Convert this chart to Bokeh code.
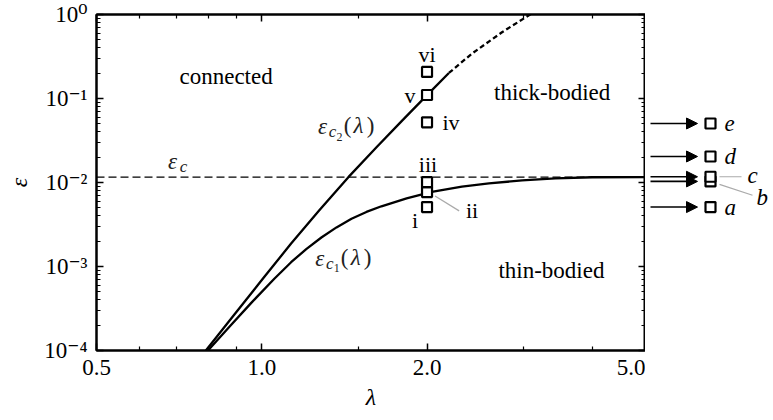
from bokeh.plotting import figure
from bokeh.models import Range1d, FixedTicker, LogAxis, Arrow, NormalHead, ColumnDataSource, Span
from bokeh.layouts import row
from bokeh.embed import file_html
from bokeh.resources import INLINE
from bokeh.core.properties import value

# ---------------- data ----------------
EPS_C = 0.0116

lam_c1 = [0.798, 0.879, 0.956, 1.054, 1.131, 1.205, 1.284, 1.368, 1.457, 1.551,
          1.652, 1.836, 2.040, 2.315, 2.593, 2.980, 3.424, 4.000, 5.0]
eps_c1 = [1.0e-4, 2.015e-4, 3.664e-4, 7.149e-4, 1.125e-3, 1.611e-3, 2.214e-3, 2.921e-3,
          3.700e-3, 4.463e-3, 5.209e-3, 6.474e-3, 7.725e-3, 8.946e-3, 9.758e-3,
          1.059e-2, 1.121e-2, 1.155e-2, 1.161e-2]

lam_c2 = [0.791, 0.890, 1.006, 1.131, 1.273, 1.438, 1.618, 1.798, 1.998, 2.192]
eps_c2 = [1.0e-4, 2.645e-4, 7.247e-4, 1.876e-3, 4.672e-3, 1.158e-2, 2.630e-2, 5.374e-2,
          0.1089, 0.2013]

lam_c2_ext = [2.192, 2.414, 2.739, 3.082, 3.310]
eps_c2_ext = [0.2013, 0.342, 0.615, 1.0, 1.319]

pt_lambda = 2.0
pt_names = ["i", "ii", "iii", "iv", "v", "vi"]
pt_eps = [0.0051, 0.0077, 0.0101, 0.052, 0.11, 0.207]

side_names = ["a", "b", "c", "d", "e"]
side_eps = [0.0051, 0.0103, 0.0117, 0.0204, 0.0504]

x_ticks = [0.5, 1.0, 2.0, 5.0]
x_tick_labels = ["0.5", "1.0", "2.0", "5.0"]
x_minor = [0.6, 0.7, 0.8, 0.9, 1.5, 3.0, 4.0]
y_ticks = [1e-4, 1e-3, 1e-2, 1e-1, 1.0]
y_tick_labels = ["10\u207b\u2074", "10\u207b\u00b3", "10\u207b\u00b2", "10\u207b\u00b9", "10\u2070"]

regions = ["connected", "thick-bodied", "thin-bodied"]
region_lam = [0.861, 3.38, 3.37]
region_eps = [0.1805, 0.117, 9.0e-4]

# ---------------- layout constants ----------------
FONT = "Liberation Serif, DejaVu Serif, serif"
H = 412
W1 = 645
W2 = 128
PXD_X = 547.0   # pixels per decade (x)
PXD_Y = 84.75   # pixels per decade (y)
y_minor = [m * 10.0 ** e for e in range(-4, 0) for m in range(2, 10)]


def shift(lam, eps, dx, dy):
    """move a data point by screen pixels (dy positive = down)"""
    return lam * 10 ** (dx / PXD_X), eps * 10 ** (-dy / PXD_Y)


p = figure(width=W1, height=H, x_axis_type="log", y_axis_type="log",
           x_range=Range1d(0.5, 5.0), y_range=Range1d(1e-4, 1.0),
           output_backend="svg", toolbar_location=None,
           min_border_left=96, min_border_right=0, min_border_top=14, min_border_bottom=59,
           background_fill_color="white", border_fill_color="white")
p.grid.visible = False
p.outline_line_color = "black"
p.outline_line_width = 2


def style_axis(ax, labels):
    ax.axis_line_width = 2
    ax.axis_line_color = "black"
    ax.major_tick_in = 7
    ax.major_tick_out = 0
    ax.minor_tick_in = 4
    ax.minor_tick_out = 0
    ax.major_tick_line_width = 1.5
    ax.minor_tick_line_width = 1.2
    ax.major_tick_line_color = "black"
    ax.minor_tick_line_color = "black"
    if labels:
        ax.major_label_text_font = FONT
        ax.major_label_text_font_size = "23px"
        ax.major_label_text_color = "black"
        ax.major_label_standoff = 9
    else:
        ax.major_label_text_font_size = "0px"
        ax.major_label_standoff = 0


xt = FixedTicker(ticks=x_ticks, minor_ticks=x_minor)
yt = FixedTicker(ticks=y_ticks, minor_ticks=y_minor)

p.xaxis.ticker = xt
p.yaxis.ticker = yt
style_axis(p.xaxis[0], True)
style_axis(p.yaxis[0], True)
p.xaxis.major_label_overrides = {t: s for t, s in zip(x_ticks, x_tick_labels)}
p.yaxis.major_label_overrides = {t: s for t, s in zip(y_ticks, y_tick_labels)}
p.xaxis.axis_label = "\u03bb"
p.yaxis.axis_label = "\u03b5"
for ax in (p.xaxis[0], p.yaxis[0]):
    ax.axis_label_text_font = FONT
    ax.axis_label_text_font_style = "italic"
    ax.axis_label_text_font_size = "24px"
    ax.axis_label_text_color = "black"
p.xaxis.axis_label_standoff = 6
p.yaxis.axis_label_standoff = 9

top = LogAxis(ticker=FixedTicker(ticks=x_ticks, minor_ticks=x_minor),
              major_label_overrides={t: "" for t in x_ticks})
right = LogAxis(ticker=FixedTicker(ticks=y_ticks, minor_ticks=y_minor),
                major_label_overrides={t: "" for t in y_ticks})
style_axis(top, False)
style_axis(right, False)
p.add_layout(top, "above")
p.add_layout(right, "right")

# critical epsilon
p.add_layout(Span(location=EPS_C, dimension="width", line_color="black",
                  line_width=1.2, line_dash="8 4"))

# curves
p.line(lam_c1, eps_c1, line_color="black", line_width=2.3, line_join="round")
p.line(lam_c2, eps_c2, line_color="black", line_width=2.3, line_join="round")
p.line(lam_c2_ext, eps_c2_ext, line_color="black", line_width=2.3, line_dash="5 3")

# leader for ii
i2 = pt_names.index("ii")
a0 = shift(pt_lambda, pt_eps[i2], 8, 4)
a1 = shift(pt_lambda, pt_eps[i2], 32, 19)
p.segment(x0=[a0[0]], y0=[a0[1]], x1=[a1[0]], y1=[a1[1]], line_color="#aaaaaa", line_width=1.2)

# sample squares
p.scatter([pt_lambda] * len(pt_eps), pt_eps, marker="square", size=10,
          line_color="black", line_width=2.2, fill_color="white")

# roman labels (offset from each square)
pt_dx = [-12, 45, 1, 24, -17, 0]
pt_dy = [13, 18, -18, 0, 0, -17]
src_pt = ColumnDataSource(dict(x=[pt_lambda] * len(pt_eps), y=pt_eps, t=pt_names,
                               dx=pt_dx, dy=pt_dy))
p.text(x="x", y="y", text="t", x_offset="dx", y_offset="dy", source=src_pt,
       text_font=value(FONT), text_font_size="22px", text_align="center",
       text_baseline="middle", text_color="black")

# region labels
p.text(x=region_lam, y=region_eps, text=regions, text_font=value(FONT),
       text_font_size="23px", text_align="center", text_baseline="middle", text_color="black")


def math_label(fig, x, y, pieces):
    for txt, dx, dy, size, style in pieces:
        fig.text(x=[x], y=[y], text=[txt], x_offset=dx, y_offset=dy,
                 text_font=value(FONT), text_font_size=size, text_font_style=style,
                 text_align="center", text_baseline="middle", text_color="#222222")


# epsilon_c label
math_label(p, 0.688, EPS_C, [("\u03b5", 0, -16, "23px", "italic"),
                             ("c", 11, -11, "17px", "italic")])
# epsilon_c2(lambda)
math_label(p, 1.29, 0.0464, [("\u03b5", 0, 0, "23px", "italic"),
                             ("c", 10, 5, "17px", "italic"),
                             ("2", 17, 10, "12px", "normal"),
                             ("(", 25, -1, "23px", "normal"),
                             ("\u03bb", 36, -1, "23px", "italic"),
                             (")", 48, -1, "23px", "normal")])
# epsilon_c1(lambda)
math_label(p, 1.275, 1.25e-3, [("\u03b5", 0, 0, "23px", "italic"),
                               ("c", 10, 5, "17px", "italic"),
                               ("1", 17, 10, "12px", "normal"),
                               ("(", 25, -1, "23px", "normal"),
                               ("\u03bb", 36, -1, "23px", "italic"),
                               (")", 48, -1, "23px", "normal")])

# ---------------- right-hand strip ----------------
p2 = figure(width=W2, height=H, x_range=Range1d(0, W2), y_range=p.y_range, y_axis_type="log",
            output_backend="svg", toolbar_location=None,
            x_axis_location=None, y_axis_location=None,
            min_border_left=0, min_border_right=0, min_border_top=14, min_border_bottom=59,
            outline_line_color=None, background_fill_color="white", border_fill_color="white")
for g in p2.grid:
    g.visible = False

ARROW_X0, ARROW_X1, SQ_X, LBL_X = 5, 52, 65, 79
n = len(side_eps)
src_side = ColumnDataSource(dict(x0=[ARROW_X0] * n, x1=[ARROW_X1] * n, y=side_eps,
                                 sx=[SQ_X] * n, t=side_names))
p2.add_layout(Arrow(end=NormalHead(size=11, fill_color="black", line_color="black", line_width=1),
                    x_start="x0", y_start="y", x_end="x1", y_end="y", source=src_side,
                    line_color="black", line_width=1.6))

ic = side_names.index("c")
ib = side_names.index("b")
p2.segment(x0=[SQ_X + 9, SQ_X + 9], y0=[side_eps[ic], shift(1, side_eps[ib], 0, 3)[1]],
           x1=[SQ_X + 31, SQ_X + 42], y1=[side_eps[ic], shift(1, side_eps[ib], 0, 14)[1]],
           line_color="#aaaaaa", line_width=1.2)

p2.scatter(x="sx", y="y", source=src_side, marker="square", size=10,
           line_color="black", line_width=2.2, fill_color="white")

lbl_x = [LBL_X, SQ_X + 46, SQ_X + 37, LBL_X, LBL_X]
lbl_dy = [0, 16, -1, 0, 0]
src_lbl = ColumnDataSource(dict(x=lbl_x, y=side_eps, t=side_names, dy=lbl_dy))
p2.text(x="x", y="y", text="t", y_offset="dy", source=src_lbl, text_font=value(FONT),
        text_font_size="23px", text_font_style="italic", text_align="left",
        text_baseline="middle", text_color="black")

layout = row(p, p2, spacing=0)
open("out.html", "w").write(file_html(layout, INLINE))
